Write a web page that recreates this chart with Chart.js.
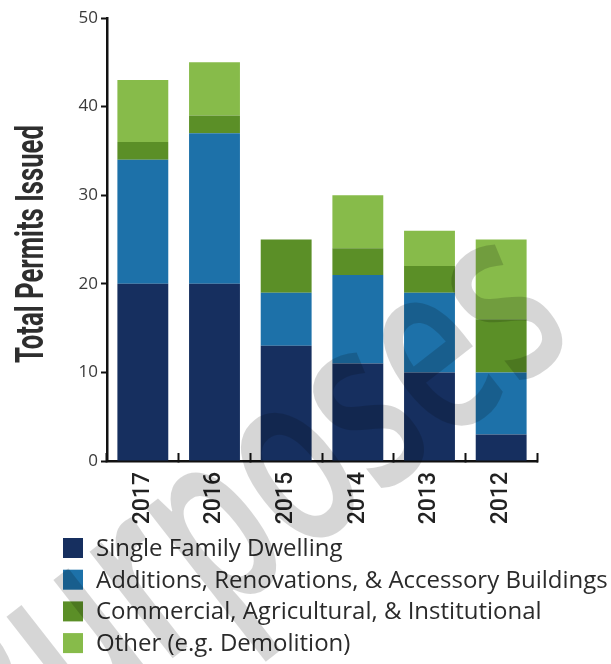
<!DOCTYPE html>
<html>
<head>
<meta charset="utf-8">
<script src="https://cdn.jsdelivr.net/npm/chart.js@4"></script>
<style>
    html, body { margin: 0; padding: 0; background: #fff; }
</style>
</head>
<body>
<canvas id="permitsChart" width="611" height="664"></canvas>
<script>
const years = ['2017', '2016', '2015', '2014', '2013', '2012'];
const singleFamily = [20, 20, 13, 11, 10, 3];
const additions = [14, 17, 6, 10, 9, 7];
const commercial = [2, 2, 6, 3, 3, 6];
const other = [7, 6, 0, 6, 4, 9];

const SERIES = [
    'Single Family Dwelling',
    'Additions, Renovations, & Accessory Buildings',
    'Commercial, Agricultural, & Institutional',
    'Other (e.g. Demolition)'
];

const COLORS = ['#162f5f', '#1d71a9', '#5b8f27', '#87bb4a'];

function makeDataset(i, values) {
    return {
        label: SERIES[i],
        data: values,
        backgroundColor: COLORS[i],
        borderWidth: 0,
        barPercentage: 0.71,
        categoryPercentage: 1.0
    };
}

// rotated y title, squeezed to a condensed look
const yTitle = {
    id: 'yTitle',
    afterDraw(chart) {
        const ctx = chart.ctx;
        const text = 'Total Permits Issued';
        ctx.save();
        ctx.font = 'bold 38px Roboto';
        const squeeze = 238 / ctx.measureText(text).width;
        ctx.translate(43, 244);
        ctx.rotate(-Math.PI / 2);
        ctx.scale(squeeze, 1);
        ctx.textAlign = 'center';
        ctx.textBaseline = 'alphabetic';
        ctx.fillStyle = '#2e2e2e';
        ctx.fillText(text, 0, 0);
        ctx.restore();
    }
};

// one legend entry per line under the axis
const listLegend = {
    id: 'listLegend',
    afterDraw(chart) {
        const ctx = chart.ctx;
        ctx.save();
        ctx.font = '24px "Open Sans"';
        ctx.textBaseline = 'middle';
        chart.data.datasets.forEach((ds, i) => {
            const y = 548 + i * 31.7;
            ctx.fillStyle = ds.backgroundColor;
            ctx.fillRect(63, y - 10, 20, 20);
            ctx.fillStyle = '#2b2b2b';
            ctx.fillText(ds.label, 96, y + 1);
        });
        ctx.restore();
    }
};

const watermark = {
    id: 'watermark',
    afterDraw(chart) {
        const ctx = chart.ctx;
        ctx.save();
        ctx.translate(580, 340);
        ctx.rotate(-38 * Math.PI / 180);
        ctx.scale(0.66, 1);
        ctx.font = '600 250px "Open Sans"';
        ctx.textAlign = 'right';
        ctx.textBaseline = 'alphabetic';
        ctx.fillStyle = 'rgba(0, 0, 0, 0.16)';
        ctx.fillText('Purposes', 0, 0);
        ctx.restore();
    }
};

new Chart(document.getElementById('permitsChart').getContext('2d'), {
    type: 'bar',
    data: {
        labels: years,
        datasets: [
            makeDataset(0, singleFamily),
            makeDataset(1, additions),
            makeDataset(2, commercial),
            makeDataset(3, other)
        ]
    },
    options: {
        responsive: false,
        animation: false,
        layout: { padding: { top: 18, right: 74, left: 0, bottom: 0 } },
        plugins: {
            legend: { display: false },
            tooltip: { enabled: false }
        },
        scales: {
            x: {
                stacked: true,
                ticks: {
                    color: '#222',
                    font: { family: 'Roboto', size: 23, weight: '500' },
                    minRotation: 90,
                    maxRotation: 90,
                    padding: 19
                },
                grid: { offset: true, drawOnChartArea: false, tickLength: -8, tickWidth: 2, color: '#111' },
                border: { color: '#111', width: 2.5 },
                afterFit: s => { s.height = 203; }
            },
            y: {
                stacked: true,
                min: 0,
                max: 50,
                ticks: {
                    stepSize: 10,
                    color: '#3a3a3a',
                    font: { family: 'Open Sans', size: 17 },
                    padding: 3
                },
                grid: { drawOnChartArea: false, tickLength: 6, tickWidth: 2, color: '#111' },
                border: { color: '#111', width: 2.5 },
                afterFit: s => { s.width = 107; }
            }
        }
    },
    plugins: [yTitle, listLegend, watermark]
});
</script>
</body>
</html>
